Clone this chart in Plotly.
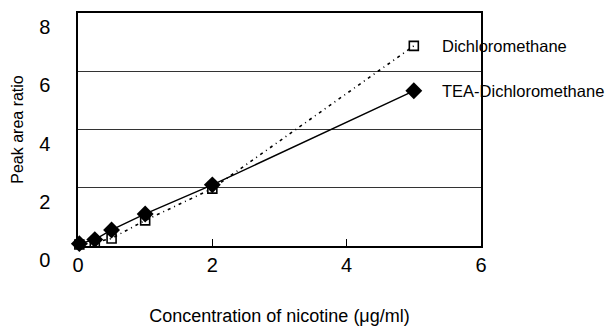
import plotly.graph_objects as go

conc = [0.02, 0.25, 0.5, 1.0, 2.0, 5.0]
dcm = [0.05, 0.12, 0.26, 0.88, 1.97, 6.87]
tea = [0.08, 0.22, 0.55, 1.10, 2.10, 5.33]
series_names = ["Dichloromethane", "TEA-Dichloromethane"]
x_ticks = [0, 2, 4, 6]
y_ticks = [0, 2, 4, 6, 8]

FONT = "Liberation Sans, Arial, sans-serif"

fig = go.Figure()
fig.add_trace(go.Scatter(
    x=conc, y=dcm, mode="lines+markers", name=series_names[0],
    line=dict(color="black", width=1.6, dash="3px,4px,1px,4px"),
    marker=dict(symbol="square-open", size=9, color="black", line=dict(width=1.6)),
    cliponaxis=False,
))
fig.add_trace(go.Scatter(
    x=conc, y=tea, mode="lines+markers", name=series_names[1],
    line=dict(color="black", width=1.4),
    marker=dict(symbol="diamond", size=13, color="black"),
    cliponaxis=False,
))

for name, val in zip(series_names, [dcm[-1], tea[-1]]):
    fig.add_annotation(x=5.39, y=val, xref="x", yref="y", text=name,
                       showarrow=False, xanchor="left", yanchor="middle",
                       font=dict(family=FONT, size=16.5, color="black"))

fig.update_layout(
    width=610, height=326,
    margin=dict(l=78, r=129, t=13, b=80),
    paper_bgcolor="white", plot_bgcolor="white",
    showlegend=False,
    font=dict(family=FONT, color="black"),
    xaxis=dict(
        range=[0, 6], tickvals=x_ticks, ticks="inside", ticklen=7, tickwidth=1,
        tickcolor="black", showgrid=False, zeroline=False, automargin=False,
        showline=True, linecolor="black", linewidth=1.5, mirror=True,
        tickfont=dict(size=20, color="black"), ticklabelstandoff=0,
        title=dict(text="Concentration of nicotine (μg/ml)", font=dict(size=18, color="black"), standoff=42),
    ),
    yaxis=dict(
        range=[0, 8], tickvals=y_ticks, ticks="", showgrid=True, automargin=False,
        gridcolor="#333333", gridwidth=1, zeroline=False,
        showline=True, linecolor="black", linewidth=1.5, mirror=True,
        tickfont=dict(size=20, color="black"), ticklabelposition="outside bottom",
        ticklabelstandoff=22,
        title=dict(text="Peak area ratio", font=dict(size=16, color="black"), standoff=12),
    ),
)

fig.write_html("out.html")
